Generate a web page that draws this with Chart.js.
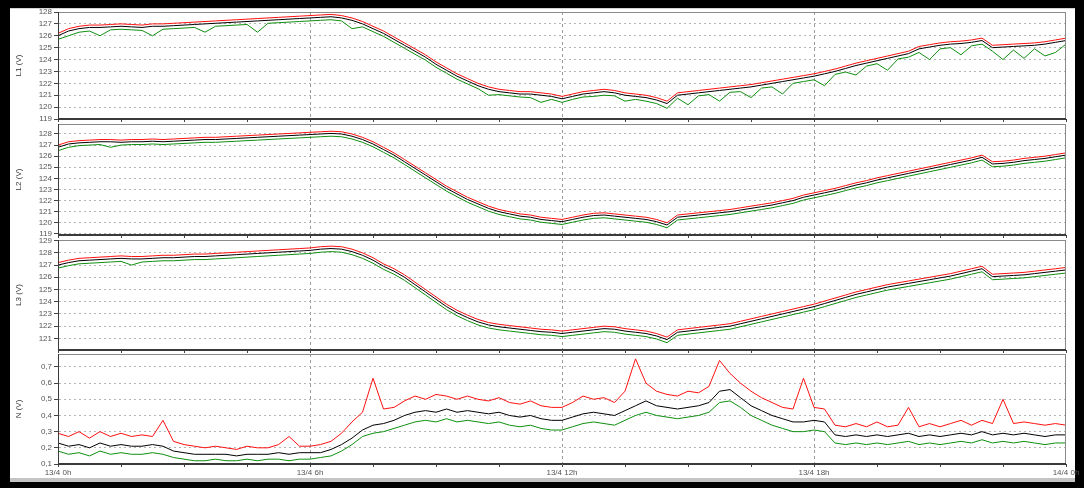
<!DOCTYPE html>
<html>
<head>
<meta charset="utf-8">
<script src="https://cdn.jsdelivr.net/npm/chart.js@4.4.1/dist/chart.umd.min.js"></script>
<style>
  html, body { margin: 0; padding: 0; background: #000; }
  #page { position: relative; width: 1084px; height: 488px; background: #000; overflow: hidden; }
  #sheet { position: absolute; left: 10px; top: 8px; width: 1065px; height: 474px; background: #fff;
           box-sizing: border-box; border-top: 1px solid #d4d4d4; border-bottom: 4px solid #c4c4c4; }
  canvas { position: absolute; left: 0; top: 0; }
</style>
</head>
<body>
<div id="page">
  <div id="sheet"></div>
  <canvas id="pL1" width="1084" height="488"></canvas>
  <canvas id="pL2" width="1084" height="488"></canvas>
  <canvas id="pL3" width="1084" height="488"></canvas>
  <canvas id="pN" width="1084" height="488"></canvas>
</div>
<script>
// Sample times, hours since 13/4 0h (15-minute steps)
const hours = [
  0,0.25,0.5,0.75,1,1.25,1.5,1.75,
  2,2.25,2.5,2.75,3,3.25,3.5,3.75,
  4,4.25,4.5,4.75,5,5.25,5.5,5.75,
  6,6.25,6.5,6.75,7,7.25,7.5,7.75,
  8,8.25,8.5,8.75,9,9.25,9.5,9.75,
  10,10.25,10.5,10.75,11,11.25,11.5,11.75,
  12,12.25,12.5,12.75,13,13.25,13.5,13.75,
  14,14.25,14.5,14.75,15,15.25,15.5,15.75,
  16,16.25,16.5,16.75,17,17.25,17.5,17.75,
  18,18.25,18.5,18.75,19,19.25,19.5,19.75,
  20,20.25,20.5,20.75,21,21.25,21.5,21.75,
  22,22.25,22.5,22.75,23,23.25,23.5,23.75,
  24
];

// Time axis labels
const xTickValues = [0, 6, 12, 18, 24];
const xTickText = ['13/4 0h', '13/4 6h', '13/4 12h', '13/4 18h', '14/4 0h'];

// Value axis ticks
const l1Ticks = [119, 120, 121, 122, 123, 124, 125, 126, 127, 128];
const l2Ticks = [119, 120, 121, 122, 123, 124, 125, 126, 127, 128];
const l3Ticks = [121, 122, 123, 124, 125, 126, 127, 128, 129];
const nTicks = [0.1, 0.2, 0.3, 0.4, 0.5, 0.6, 0.7];

// L1 voltage (V): maximum, average, minimum
const l1Max = [
  126.2,126.6,126.8,126.9,126.9,126.95,127.0,126.95,
  126.9,127.0,127.0,127.05,127.1,127.15,127.2,127.25,
  127.3,127.35,127.4,127.45,127.5,127.55,127.6,127.65,
  127.7,127.75,127.8,127.7,127.5,127.2,126.8,126.4,
  125.9,125.4,124.9,124.4,123.8,123.3,122.8,122.4,
  122.0,121.7,121.5,121.4,121.3,121.3,121.2,121.1,
  120.9,121.1,121.3,121.4,121.5,121.4,121.2,121.1,
  121.0,120.8,120.5,121.2,121.3,121.4,121.5,121.6,
  121.7,121.8,121.9,122.05,122.2,122.35,122.5,122.65,
  122.8,123.0,123.2,123.45,123.7,123.9,124.1,124.3,
  124.5,124.7,125.1,125.25,125.4,125.5,125.55,125.65,
  125.8,125.2,125.25,125.3,125.35,125.4,125.5,125.65,
  125.8
];
const l1Avg = [
  126.0,126.4,126.6,126.7,126.7,126.75,126.8,126.75,
  126.7,126.8,126.8,126.85,126.9,126.95,127.0,127.05,
  127.1,127.15,127.2,127.25,127.3,127.35,127.4,127.45,
  127.5,127.55,127.6,127.5,127.3,127.0,126.6,126.2,
  125.7,125.2,124.7,124.2,123.6,123.1,122.6,122.2,
  121.8,121.5,121.3,121.2,121.1,121.1,121.0,120.9,
  120.7,120.9,121.1,121.2,121.3,121.2,121.0,120.9,
  120.8,120.6,120.3,121.0,121.1,121.2,121.3,121.4,
  121.5,121.6,121.7,121.85,122.0,122.15,122.3,122.45,
  122.6,122.8,123.0,123.25,123.5,123.7,123.9,124.1,
  124.3,124.5,124.9,125.05,125.2,125.3,125.35,125.45,
  125.6,125.0,125.05,125.1,125.15,125.2,125.3,125.45,
  125.6
];
const l1Min = [
  125.7,126.0,126.3,126.4,126.0,126.5,126.55,126.5,
  126.45,126.0,126.55,126.6,126.65,126.7,126.3,126.8,
  126.85,126.9,126.95,126.3,127.05,127.1,127.15,127.2,
  127.25,127.3,127.35,127.25,126.6,126.75,126.35,125.95,
  125.45,124.95,124.45,123.95,123.35,122.85,122.35,121.95,
  121.55,121.0,121.05,120.95,120.85,120.8,120.4,120.65,
  120.4,120.65,120.85,120.9,121.0,120.95,120.5,120.65,
  120.5,120.3,119.9,120.75,120.2,120.95,121.05,120.5,
  121.25,121.3,120.8,121.6,121.7,121.1,122.0,122.15,
  122.3,121.8,122.75,122.95,122.7,123.45,123.65,123.1,
  124.05,124.2,124.6,124.0,124.9,125.0,124.4,125.15,
  125.3,124.7,124.0,124.8,124.1,124.9,124.3,124.6,
  125.3
];

// L2 voltage (V)
const l2Max = [
  127.0,127.3,127.4,127.45,127.5,127.5,127.45,127.5,
  127.5,127.55,127.5,127.55,127.6,127.65,127.7,127.7,
  127.75,127.8,127.85,127.9,127.95,128.0,128.05,128.1,
  128.15,128.2,128.25,128.2,128.0,127.7,127.3,126.8,
  126.3,125.7,125.1,124.5,123.9,123.3,122.8,122.3,
  121.9,121.5,121.2,121.0,120.8,120.7,120.5,120.4,
  120.3,120.5,120.7,120.85,120.9,120.8,120.7,120.6,
  120.5,120.3,120.0,120.7,120.8,120.9,121.0,121.1,
  121.2,121.35,121.5,121.65,121.8,122.0,122.2,122.5,
  122.7,122.9,123.1,123.35,123.6,123.8,124.05,124.25,
  124.45,124.65,124.85,125.05,125.25,125.45,125.65,125.85,
  126.1,125.5,125.55,125.65,125.8,125.9,126.0,126.15,
  126.3
];
const l2Avg = [
  126.8,127.1,127.2,127.25,127.3,127.3,127.25,127.3,
  127.3,127.35,127.3,127.35,127.4,127.45,127.5,127.5,
  127.55,127.6,127.65,127.7,127.75,127.8,127.85,127.9,
  127.95,128.0,128.05,128.0,127.8,127.5,127.1,126.6,
  126.1,125.5,124.9,124.3,123.7,123.1,122.6,122.1,
  121.7,121.3,121.0,120.8,120.6,120.5,120.3,120.2,
  120.1,120.3,120.5,120.65,120.7,120.6,120.5,120.4,
  120.3,120.1,119.8,120.5,120.6,120.7,120.8,120.9,
  121.0,121.15,121.3,121.45,121.6,121.8,122.0,122.3,
  122.5,122.7,122.9,123.15,123.4,123.6,123.85,124.05,
  124.25,124.45,124.65,124.85,125.05,125.25,125.45,125.65,
  125.9,125.3,125.35,125.45,125.6,125.7,125.8,125.95,
  126.1
];
const l2Min = [
  126.5,126.8,126.95,127.0,127.05,126.8,127.0,127.05,
  127.05,127.1,127.05,127.1,127.15,127.2,127.25,127.25,
  127.3,127.35,127.4,127.45,127.5,127.55,127.6,127.65,
  127.7,127.75,127.8,127.75,127.55,127.25,126.85,126.35,
  125.85,125.25,124.65,124.05,123.45,122.85,122.35,121.85,
  121.45,121.05,120.75,120.55,120.35,120.25,120.05,119.95,
  119.85,120.05,120.25,120.4,120.45,120.35,120.25,120.15,
  120.05,119.85,119.55,120.25,120.35,120.45,120.55,120.65,
  120.75,120.9,121.05,121.2,121.35,121.55,121.75,122.05,
  122.25,122.45,122.65,122.9,123.15,123.35,123.6,123.8,
  124.0,124.2,124.4,124.6,124.8,125.0,125.2,125.4,
  125.65,125.05,125.1,125.2,125.35,125.45,125.55,125.7,
  125.85
];

// L3 voltage (V)
const l3Max = [
  127.2,127.4,127.55,127.6,127.65,127.7,127.75,127.7,
  127.7,127.75,127.8,127.8,127.85,127.9,127.9,127.95,
  128.0,128.05,128.1,128.15,128.2,128.25,128.3,128.35,
  128.4,128.5,128.55,128.5,128.3,128.0,127.6,127.1,
  126.7,126.2,125.6,125.0,124.4,123.8,123.3,122.9,
  122.55,122.3,122.15,122.05,121.95,121.85,121.75,121.7,
  121.6,121.7,121.8,121.9,122.0,121.95,121.8,121.7,
  121.6,121.4,121.1,121.7,121.8,121.9,122.0,122.1,
  122.2,122.4,122.6,122.8,123.0,123.2,123.4,123.6,
  123.8,124.05,124.3,124.55,124.8,125.0,125.2,125.4,
  125.55,125.7,125.85,126.0,126.15,126.3,126.5,126.7,
  126.9,126.25,126.3,126.35,126.4,126.5,126.6,126.7,
  126.8
];
const l3Avg = [
  127.0,127.2,127.35,127.4,127.45,127.5,127.55,127.5,
  127.5,127.55,127.6,127.6,127.65,127.7,127.7,127.75,
  127.8,127.85,127.9,127.95,128.0,128.05,128.1,128.15,
  128.2,128.3,128.35,128.3,128.1,127.8,127.4,126.9,
  126.5,126.0,125.4,124.8,124.2,123.6,123.1,122.7,
  122.35,122.1,121.95,121.85,121.75,121.65,121.55,121.5,
  121.4,121.5,121.6,121.7,121.8,121.75,121.6,121.5,
  121.4,121.2,120.9,121.5,121.6,121.7,121.8,121.9,
  122.0,122.2,122.4,122.6,122.8,123.0,123.2,123.4,
  123.6,123.85,124.1,124.35,124.6,124.8,125.0,125.2,
  125.35,125.5,125.65,125.8,125.95,126.1,126.3,126.5,
  126.7,126.05,126.1,126.15,126.2,126.3,126.4,126.5,
  126.6
];
const l3Min = [
  126.75,126.95,127.1,127.15,127.2,127.25,127.3,127.0,
  127.25,127.3,127.35,127.35,127.4,127.45,127.45,127.5,
  127.55,127.6,127.65,127.7,127.75,127.8,127.85,127.9,
  127.95,128.05,128.1,128.05,127.85,127.55,127.15,126.65,
  126.25,125.75,125.15,124.55,123.95,123.35,122.85,122.45,
  122.1,121.85,121.7,121.6,121.5,121.4,121.3,121.25,
  121.15,121.25,121.35,121.45,121.55,121.5,121.35,121.25,
  121.15,120.95,120.65,121.25,121.35,121.45,121.55,121.65,
  121.75,121.95,122.15,122.35,122.55,122.75,122.95,123.15,
  123.35,123.6,123.85,124.1,124.35,124.55,124.75,124.95,
  125.1,125.25,125.4,125.55,125.7,125.85,126.05,126.25,
  126.45,125.8,125.85,125.9,125.95,126.05,126.15,126.25,
  126.35
];

// Neutral voltage (V)
const nMax = [
  0.29,0.27,0.30,0.26,0.30,0.27,0.29,0.27,
  0.28,0.27,0.37,0.24,0.22,0.21,0.20,0.21,
  0.20,0.19,0.21,0.20,0.20,0.22,0.27,0.21,
  0.21,0.22,0.24,0.29,0.36,0.42,0.63,0.44,
  0.45,0.49,0.52,0.50,0.53,0.52,0.50,0.52,
  0.50,0.49,0.51,0.48,0.47,0.49,0.46,0.45,
  0.45,0.48,0.52,0.50,0.51,0.48,0.55,0.75,
  0.60,0.55,0.53,0.52,0.55,0.54,0.58,0.74,
  0.66,0.60,0.55,0.51,0.48,0.45,0.44,0.63,
  0.45,0.44,0.34,0.33,0.35,0.33,0.36,0.33,
  0.34,0.45,0.33,0.35,0.33,0.35,0.37,0.34,
  0.37,0.35,0.50,0.35,0.36,0.35,0.34,0.35,
  0.34
];
const nAvg = [
  0.23,0.21,0.22,0.20,0.23,0.21,0.22,0.21,
  0.21,0.22,0.21,0.18,0.17,0.16,0.16,0.16,
  0.16,0.15,0.16,0.16,0.16,0.17,0.16,0.17,
  0.17,0.17,0.19,0.22,0.26,0.31,0.34,0.35,
  0.37,0.40,0.42,0.43,0.42,0.44,0.42,0.43,
  0.42,0.41,0.42,0.40,0.39,0.40,0.38,0.37,
  0.37,0.39,0.41,0.42,0.41,0.40,0.43,0.46,
  0.49,0.46,0.45,0.44,0.45,0.46,0.48,0.55,
  0.56,0.51,0.46,0.43,0.40,0.38,0.36,0.36,
  0.37,0.36,0.28,0.27,0.28,0.27,0.28,0.27,
  0.28,0.29,0.27,0.28,0.27,0.28,0.29,0.28,
  0.30,0.28,0.29,0.28,0.29,0.28,0.27,0.28,
  0.28
];
const nMin = [
  0.18,0.16,0.17,0.15,0.18,0.16,0.17,0.16,
  0.16,0.17,0.16,0.14,0.13,0.12,0.12,0.13,
  0.12,0.12,0.13,0.12,0.13,0.13,0.12,0.13,
  0.13,0.14,0.15,0.18,0.22,0.27,0.29,0.30,
  0.32,0.34,0.36,0.37,0.36,0.38,0.36,0.37,
  0.36,0.35,0.36,0.34,0.33,0.34,0.32,0.31,
  0.31,0.33,0.35,0.36,0.35,0.34,0.37,0.40,
  0.42,0.40,0.39,0.38,0.39,0.40,0.42,0.48,
  0.49,0.45,0.40,0.37,0.34,0.32,0.30,0.30,
  0.31,0.30,0.23,0.22,0.23,0.22,0.23,0.22,
  0.23,0.24,0.22,0.23,0.22,0.23,0.24,0.23,
  0.25,0.23,0.24,0.23,0.24,0.23,0.22,0.23,
  0.23
];

// ---------- drawing ----------
const FONT = 'Liberation Sans, Arial, sans-serif';
const PAGE_H = 488;
const PLOT_LEFT = 58;
const PLOT_RIGHT = 1066;

// thin frame around each plot area
const panelFrame = {
  id: 'panelFrame',
  afterDatasetsDraw(chart) {
    const { ctx, chartArea: a } = chart;
    ctx.save();
    ctx.strokeStyle = '#8a8a8a';
    ctx.lineWidth = 1;
    ctx.strokeRect(Math.round(a.left) + 0.5, Math.round(a.top) + 0.5,
                   Math.round(a.right - a.left) - 1, Math.round(a.bottom - a.top) - 1);
    ctx.strokeStyle = '#3a3a3a';
    ctx.beginPath();
    ctx.moveTo(a.left, Math.round(a.bottom) - 0.5);
    ctx.lineTo(a.right, Math.round(a.bottom) - 0.5);
    ctx.moveTo(Math.round(a.left) + 0.5, a.top);
    ctx.lineTo(Math.round(a.left) + 0.5, a.bottom);
    ctx.stroke();
    ctx.restore();
  }
};

function series(values) {
  return hours.map((h, i) => ({ x: h, y: values[i] }));
}

function makePanel(id, opts) {
  const isLast = !!opts.showTime;
  new Chart(document.getElementById(id), {
    type: 'line',
    data: {
      datasets: [
        { label: 'avg', data: series(opts.avg), borderColor: '#000000', order: 0 },
        { label: 'min', data: series(opts.min), borderColor: '#0f8f0f', order: 1 },
        { label: 'max', data: series(opts.max), borderColor: '#ff1010', order: 2 }
      ]
    },
    options: {
      responsive: false,
      animation: false,
      events: [],
      datasets: { line: { borderWidth: 1, pointRadius: 0, tension: 0 } },
      layout: {
        padding: { left: 0, right: 1084 - PLOT_RIGHT, top: opts.top, bottom: isLast ? 0 : PAGE_H - opts.bottom }
      },
      plugins: { legend: { display: false }, tooltip: { enabled: false } },
      scales: {
        x: {
          type: 'linear',
          min: 0,
          max: 24,
          afterFit(scale) { scale.height = isLast ? PAGE_H - opts.bottom : 0; },
          afterBuildTicks(scale) {
            const t = [];
            for (let v = 0; v <= 24; v += 1.5) t.push({ value: v });
            scale.ticks = t;
          },
          ticks: {
            display: isLast,
            autoSkip: false,
            maxRotation: 0,
            padding: 1,
            color: '#555',
            font: { family: FONT, size: 8 },
            callback(v) {
              const k = xTickValues.indexOf(v);
              return k >= 0 ? xTickText[k] : '';
            }
          },
          grid: {
            drawTicks: true,
            tickLength: 3,
            tickColor: '#444',
            color(ctx) {
              const v = ctx.tick && ctx.tick.value;
              return (v > 0 && v < 24 && v % 6 === 0) ? '#9a9a9a' : 'rgba(0,0,0,0)';
            }
          },
          border: { display: true, color: '#3a3a3a', width: 1, dash: [3, 3] }
        },
        y: {
          min: opts.yMin,
          max: opts.yMax,
          afterFit(scale) { scale.width = PLOT_LEFT; },
          afterBuildTicks(scale) { scale.ticks = opts.ticks.map(v => ({ value: v })); },
          ticks: {
            autoSkip: false,
            padding: 2,
            color: '#555',
            font: { family: FONT, size: 8 },
            callback: opts.fmt
          },
          grid: { drawTicks: true, tickLength: 4, tickColor: '#444', color: '#b4b4b4' },
          border: { display: true, color: '#3a3a3a', width: 1, dash: [2, 3] },
          title: {
            display: true,
            text: opts.title,
            color: '#333',
            font: { family: FONT, size: 8 },
            padding: { top: 14, bottom: 0 }
          }
        }
      }
    },
    plugins: [panelFrame]
  });
}

const volts = v => String(Math.round(v));
const decimal = v => v.toFixed(1).replace('.', ',');

makePanel('pL1', { title: 'L1 (V)', top: 12, bottom: 119, yMin: 119, yMax: 128, ticks: l1Ticks, fmt: volts,
                   max: l1Max, avg: l1Avg, min: l1Min });
makePanel('pL2', { title: 'L2 (V)', top: 124, bottom: 235, yMin: 118.9, yMax: 128.9, ticks: l2Ticks, fmt: volts,
                   max: l2Max, avg: l2Avg, min: l2Min });
makePanel('pL3', { title: 'L3 (V)', top: 240, bottom: 350, yMin: 120.05, yMax: 129.05, ticks: l3Ticks, fmt: volts,
                   max: l3Max, avg: l3Avg, min: l3Min });
makePanel('pN', { title: 'N (V)', top: 354, bottom: 464, yMin: 0.1, yMax: 0.78, ticks: nTicks, fmt: decimal,
                  max: nMax, avg: nAvg, min: nMin, showTime: true });
</script>
</body>
</html>
